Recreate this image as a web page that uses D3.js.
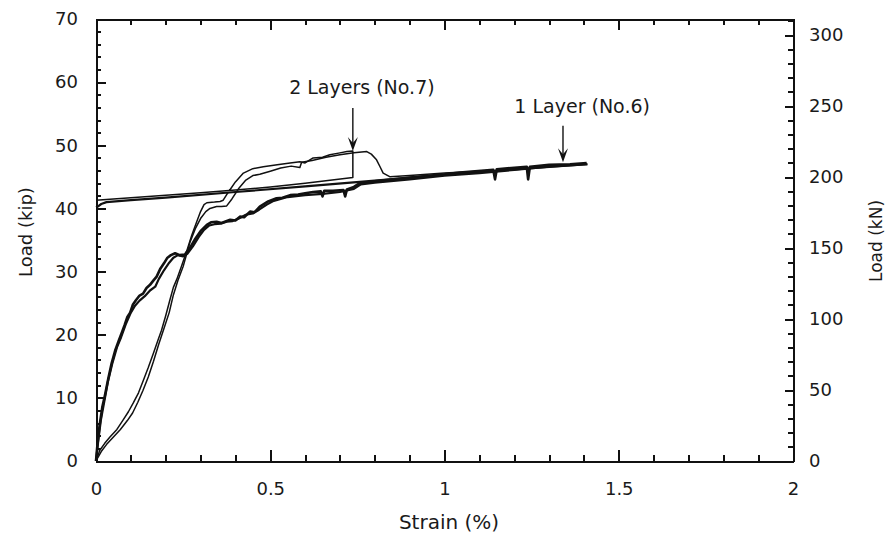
<!DOCTYPE html>
<html lang="en">
<head>
<meta charset="UTF-8">
<script src="https://d3js.org/d3.v7.min.js"></script>
<style>
body { margin: 0; background: #fff; }
svg text { font-family: "DejaVu Sans", "Liberation Sans", Arial, sans-serif; fill: #1a1a1a; }
.axis path, .axis line { stroke: #111; shape-rendering: crispEdges; }
</style>
</head>
<body>
<svg id="chart" width="887" height="535"></svg>
<script>
// strain (%) , load (kip)
var layer1A = [[0,0],[0.004,2.5],[0.01,5.5],[0.018,8.5],[0.026,10.5],[0.035,13],[0.045,15.5],[0.055,17.5],[0.065,19],[0.074,20.3],[0.082,21.5],[0.09,22.8],[0.098,23.5],[0.106,24.8],[0.115,25.5],[0.125,26.2],[0.135,26.5],[0.145,27.4],[0.155,27.9],[0.165,28.6],[0.174,29.2],[0.185,30.5],[0.195,31.3],[0.205,32.2],[0.215,32.6],[0.227,32.9],[0.24,32.6],[0.255,32.7],[0.27,33.8],[0.285,35.2],[0.3,36.4],[0.318,37.4],[0.33,37.8],[0.346,37.9],[0.36,37.7],[0.385,38.2],[0.4,38.1],[0.413,38.7],[0.425,38.6],[0.442,39.5],[0.455,39.4],[0.47,40.3],[0.494,41.1],[0.518,41.6],[0.535,41.7],[0.557,42.1],[0.58,42.2],[0.6,42.4],[0.623,42.6],[0.645,42.7],[0.65,41.9],[0.655,42.8],[0.68,42.8],[0.71,42.9],[0.715,41.9],[0.72,43.0],[0.74,43.4],[0.757,44],[0.8,44.3],[0.9,44.9],[1.0,45.4],[1.044,45.7],[1.14,46.1],[1.145,44.6],[1.15,46.2],[1.236,46.6],[1.24,44.6],[1.245,46.6],[1.3,46.9],[1.36,47.0],[1.408,47.2]];
var layer1B = [[0,0],[0.006,3],[0.014,6.5],[0.024,9.5],[0.034,12.5],[0.046,15.3],[0.06,18],[0.072,19.6],[0.085,21.6],[0.1,23.5],[0.112,24.6],[0.125,25.4],[0.14,26.1],[0.155,27],[0.17,27.6],[0.18,28.8],[0.195,30.2],[0.21,31.4],[0.222,32.2],[0.235,32.6],[0.25,32.4],[0.262,32.8],[0.278,34],[0.295,35.5],[0.31,36.6],[0.325,37.3],[0.34,37.5],[0.358,37.6],[0.375,37.9],[0.392,38],[0.41,38.4],[0.43,39],[0.45,39.2],[0.468,39.8],[0.49,40.6],[0.51,41.2],[0.53,41.5],[0.55,41.8],[0.6,42.1],[0.65,42.3],[0.7,42.6],[0.74,43.1],[0.76,43.8],[0.8,44.1],[0.9,44.6],[1.0,45.2],[1.1,45.6],[1.2,46.1],[1.3,46.6],[1.38,46.9],[1.41,47.0]];
var layer1Return = [[1.41,47.0],[1.2,46.2],[1.0,45.3],[0.8,44.4],[0.6,43.5],[0.4,42.6],[0.2,41.7],[0.1,41.3],[0.03,41.0],[0.015,40.7],[0.005,40.3],[0,40.2]];
var layer2A = [[0,0],[0.011,1.7],[0.025,2.8],[0.04,3.8],[0.06,5],[0.078,6.5],[0.093,7.8],[0.107,9.2],[0.122,10.8],[0.136,12.8],[0.15,14.8],[0.165,17.1],[0.177,19],[0.188,20.7],[0.2,23],[0.212,25.5],[0.222,27.5],[0.232,28.8],[0.245,30.8],[0.26,33.2],[0.275,35.8],[0.289,37.9],[0.3,39.5],[0.31,40.6],[0.318,40.9],[0.34,41],[0.356,41.1],[0.365,41.3],[0.375,42.2],[0.385,43],[0.4,44.2],[0.423,45.6],[0.45,46.3],[0.48,46.6],[0.52,46.9],[0.557,47.2],[0.585,47.4],[0.6,47.2],[0.623,48],[0.65,48.1],[0.671,48.5],[0.7,48.8],[0.72,49],[0.737,49.1],[0.737,44.9],[0.6,44.0],[0.5,43.4],[0.4,42.9],[0.3,42.5],[0.2,42.1],[0.1,41.7],[0.03,41.4],[0,41.3]];
var layer2B = [[0,0],[0.015,1.5],[0.03,2.6],[0.05,3.8],[0.07,5],[0.09,6.4],[0.105,7.6],[0.12,9.3],[0.135,11.2],[0.15,13.3],[0.165,15.8],[0.18,18.5],[0.195,21],[0.21,23.5],[0.222,26.3],[0.235,28.6],[0.25,30.8],[0.27,34.7],[0.285,36.8],[0.3,38.4],[0.315,39.5],[0.327,40.0],[0.346,40.3],[0.36,40.3],[0.375,40.4],[0.39,41.5],[0.41,43.2],[0.43,44.5],[0.45,45.2],[0.47,45.4],[0.5,45.9],[0.53,46.4],[0.56,46.7],[0.585,46.5],[0.59,47.3],[0.62,47.6],[0.66,48.1],[0.7,48.5],[0.74,48.8],[0.777,49],[0.79,48.6],[0.805,47.7],[0.815,46.6],[0.824,45.6],[0.844,45],[0.9,45.2],[1.0,45.6],[1.1,45.9]];

var xMajor = [0, 0.5, 1, 1.5, 2];
var kipMajor = [0, 10, 20, 30, 40, 50, 60, 70];
var kNMajor = [0, 50, 100, 150, 200, 250, 300];
var kipPerKN = 4.448;

var svg = d3.select("#chart"),
    margin = {top: 19, right: 94, bottom: 74, left: 96},
    width = +svg.attr("width") - margin.left - margin.right,
    height = +svg.attr("height") - margin.top - margin.bottom;

var g = svg.append("g").attr("transform", `translate(${margin.left},${margin.top})`);

var x = d3.scaleLinear().domain([0, 2]).range([0, width]);
var y = d3.scaleLinear().domain([0, 70]).range([height, 0]);
var y2 = d3.scaleLinear().domain([0, 70 * kipPerKN]).range([height, 0]);

var xMinor = d3.range(0, 2.001, 0.1).filter(v => Math.abs(v * 2 - Math.round(v * 2)) > 1e-6);
var kipMinor = d3.range(0, 70.001, 2).filter(v => v % 10 != 0);
var kNMinor = d3.range(0, 311, 10).filter(v => v % 50 != 0);

function styleAxis(sel, fs) {
    sel.selectAll("path").attr("stroke-width", 2);
    sel.selectAll("line").attr("stroke-width", 2);
    sel.selectAll("text").style("font-size", fs + "px").attr("fill", "#1a1a1a");
}

// minor ticks
g.append("g").attr("class", "axis").attr("transform", `translate(0,${height})`)
    .call(d3.axisBottom(x).tickValues(xMinor).tickSize(-6).tickSizeOuter(0).tickFormat(""))
    .call(s => styleAxis(s, 18));
g.append("g").attr("class", "axis")
    .call(d3.axisTop(x).tickValues(xMinor).tickSize(-6).tickSizeOuter(0).tickFormat(""))
    .call(s => styleAxis(s, 18));
g.append("g").attr("class", "axis")
    .call(d3.axisLeft(y).tickValues(kipMinor).tickSize(-5).tickSizeOuter(0).tickFormat(""))
    .call(s => styleAxis(s, 18));
g.append("g").attr("class", "axis").attr("transform", `translate(${width},0)`)
    .call(d3.axisRight(y2).tickValues(kNMinor).tickSize(-5).tickSizeOuter(0).tickFormat(""))
    .call(s => styleAxis(s, 18));

// major ticks + labels
g.append("g").attr("class", "axis").attr("transform", `translate(0,${height})`)
    .call(d3.axisBottom(x).tickValues(xMajor).tickSize(-11).tickSizeOuter(0).tickPadding(21).tickFormat(d3.format("")))
    .call(s => styleAxis(s, 18));
g.append("g").attr("class", "axis")
    .call(d3.axisTop(x).tickValues(xMajor).tickSize(-11).tickSizeOuter(0).tickFormat(""))
    .call(s => styleAxis(s, 18));
g.append("g").attr("class", "axis")
    .call(d3.axisLeft(y).tickValues(kipMajor).tickSize(-10).tickSizeOuter(0).tickPadding(18))
    .call(s => styleAxis(s, 18));
g.append("g").attr("class", "axis").attr("transform", `translate(${width},0)`)
    .call(d3.axisRight(y2).tickValues(kNMajor).tickSize(-8).tickSizeOuter(0).tickPadding(16))
    .call(s => styleAxis(s, 18));

// axis titles
svg.append("text").attr("x", 449).attr("y", 529)
    .attr("text-anchor", "middle").style("font-size", "20px").text("Strain (%)");
svg.append("text").attr("transform", "translate(32,232) rotate(-90)")
    .attr("text-anchor", "middle").style("font-size", "18px").text("Load (kip)");
svg.append("text").attr("transform", "translate(882,241) rotate(-90)")
    .attr("text-anchor", "middle").style("font-size", "17px").text("Load (kN)");

// curves
var line = d3.line().x(d => x(d[0])).y(d => y(d[1]));
var series = [
    {data: layer1Return, w: 2.2},
    {data: layer2A, w: 1.5},
    {data: layer2B, w: 1.5},
    {data: layer1A, w: 2.6},
    {data: layer1B, w: 2.2}
];
g.selectAll(".curve").data(series).enter().append("path")
    .attr("class", "curve")
    .attr("d", d => line(d.data))
    .attr("fill", "none")
    .attr("stroke", "#111")
    .attr("stroke-width", d => d.w)
    .attr("stroke-linejoin", "round");

// annotations
var notes = [
    {text: "2 Layers (No.7)", tx: 0.763, ty: 59.2, ax: 0.737, a0: 55.9, a1: 49.1},
    {text: "1 Layer (No.6)", tx: 1.395, ty: 56.2, ax: 1.34, a0: 53.1, a1: 47.3}
];
notes.forEach(function(n) {
    g.append("text").attr("x", x(n.tx)).attr("y", y(n.ty)).attr("dy", "0.36em")
        .attr("text-anchor", "middle").style("font-size", "19px").text(n.text);
    g.append("line").attr("x1", x(n.ax)).attr("x2", x(n.ax))
        .attr("y1", y(n.a0)).attr("y2", y(n.a1) - 4)
        .attr("stroke", "#111").attr("stroke-width", 1.4);
    var px = x(n.ax), py = y(n.a1);
    g.append("path")
        .attr("d", `M${px - 5},${py - 14} L${px},${py} L${px + 5},${py - 14} L${px},${py - 8} Z`)
        .attr("fill", "#111");
});
</script>
</body>
</html>
